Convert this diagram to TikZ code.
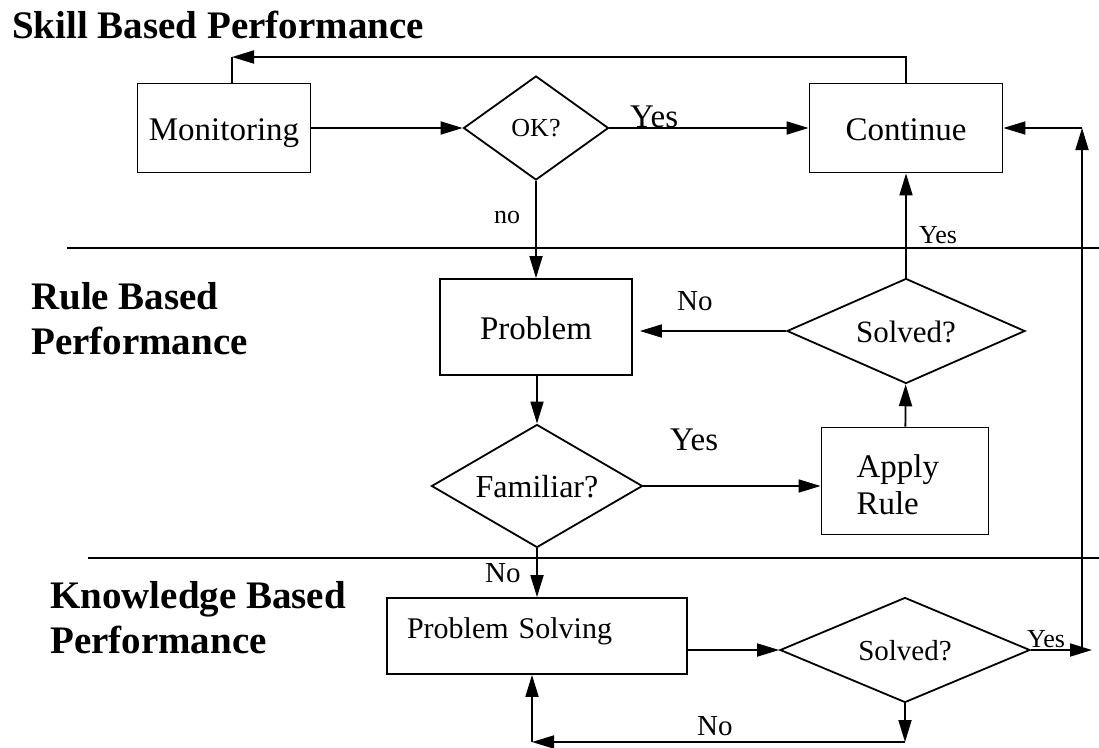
\documentclass[tikz,border=0pt]{standalone}
\usepackage{fontspec}
\setmainfont{Liberation Serif}
\usepackage{tikz}
\usetikzlibrary{arrows.meta, shapes.geometric}

\begin{document}
\begin{tikzpicture}[
        x=1pt, y=-1pt,
        block/.style={rectangle, draw, line width=1.8pt, align=center, font=\fontsize{33}{37}\selectfont},
        decision/.style={diamond, draw, line width=1.8pt, inner sep=0pt, aspect=2, font=\fontsize{32}{36}\selectfont},
        capline/.style={text height=#1, text depth=0pt},
        arrow/.style={-{Triangle[length=22pt, width=13pt]}, line width=1.8pt},
        heading/.style={inner sep=0pt, align=left, font=\bfseries\fontsize{39}{45}\selectfont},
        note/.style={inner sep=0pt, anchor=base west, font=\fontsize{29}{33}\selectfont}
    ]
        \useasboundingbox (0,0) rectangle (1099,747);

        % levels of performance
        \node[heading, anchor=base west] (skill) at (12,38) {Skill Based Performance};
        \node[heading, anchor=north west] (rule) at (31,282) {Rule Based\\Performance};
        \node[heading, anchor=north west] (knowledge) at (50,581) {Knowledge Based\\Performance};

        \draw[line width=1.8pt] (67,248) -- (1099,248);
        \draw[line width=1.8pt] (88,558) -- (1099,558);

        % skill level
        \node[block, capline=24pt, minimum width=173pt, minimum height=89pt] (monitor) at (224,128) {Monitoring};
        \node[decision, capline=17pt, minimum width=145pt, minimum height=104pt, font=\fontsize{26}{30}\selectfont] (ok) at (536,128) {OK?};
        \node[block, capline=24pt, minimum width=193pt, minimum height=89pt] (continue) at (906,128) {Continue};

        % rule level
        \node[block, capline=24pt, minimum width=192pt, minimum height=96pt] (problem) at (536,327) {Problem};
        \node[decision, capline=22pt, minimum width=238pt, minimum height=105pt, font=\fontsize{31}{35}\selectfont] (solvedR) at (906,331) {Solved?};
        \node[decision, capline=22pt, minimum width=211pt, minimum height=123pt] (familiar) at (537,486) {Familiar?};
        \node[block, align=left, text width=97pt, inner xsep=35pt, minimum height=107pt] (apply) at (905,481) {\\[-6pt]Apply\\Rule};

        % knowledge level
        \node[block, align=left, text width=260pt, inner xsep=20pt, inner ysep=0pt, text height=40pt, text depth=36pt, font=\fontsize{30}{34}\selectfont] (solving) at (537,636) {Problem Solving};
        \node[decision, capline=21pt, minimum width=250pt, minimum height=105pt, font=\fontsize{29}{33}\selectfont] (solvedK) at (905,650) {Solved?};

        \coordinate (back) at (232,57);
        \coordinate (railtop) at (1082,128);
        \coordinate (railbot) at (1082,650);
        \coordinate (yestip) at (1092,650);
        \coordinate (loopR) at (905,742);
        \coordinate (loopL) at (532,742);

        \draw[arrow] (monitor) -- (ok);
        \draw[arrow] (ok) -- (continue);
        \draw[arrow] (continue.north) |- (back);
        \draw[line width=1.8pt] (back) -- (back |- monitor.north);
        \draw[arrow] (ok) -- (problem);
        \draw[arrow] (solvedR) -- (continue);
        \draw[arrow, shorten >=7pt] (solvedR.west) -- (solvedR.west -| problem.east);
        \draw[arrow] (problem.south -| familiar.north) -- (familiar);
        \draw[arrow] (familiar.east) -- (familiar.east -| apply.west);
        \draw[arrow] (apply) -- (solvedR);
        \draw[arrow] (familiar) -- (solving);
        \draw[arrow] (solving.east |- solvedK.west) -- (solvedK.west);
        \draw[arrow] (solvedK.east) -- (yestip);
        \draw[arrow] (railbot) -- (railtop);
        \draw[arrow] (railtop) -- (continue.east);
        \draw[arrow] (solvedK.south) -- (loopR);
        \draw[arrow] (loopR) -- (loopL);
        \draw[arrow] (loopL) -- (loopL |- solving.south);

        % branch labels
        \node[note, font=\fontsize{33}{37}\selectfont] (okyes) at (630,127) {Yes};
        \node[note, font=\fontsize{26}{30}\selectfont] (okno) at (494,223) {no};
        \node[note, font=\fontsize{26}{30}\selectfont] (ruleyes) at (919,243) {Yes};
        \node[note] (ruleno) at (677,310) {No};
        \node[note, font=\fontsize{33}{37}\selectfont] (famyes) at (670,450) {Yes};
        \node[note] (famno) at (485,582) {No};
        \node[note, font=\fontsize{26}{30}\selectfont] (knowyes) at (1027,647) {Yes};
        \node[note] (knowno) at (697,735) {No};
    \end{tikzpicture}
\end{document}
